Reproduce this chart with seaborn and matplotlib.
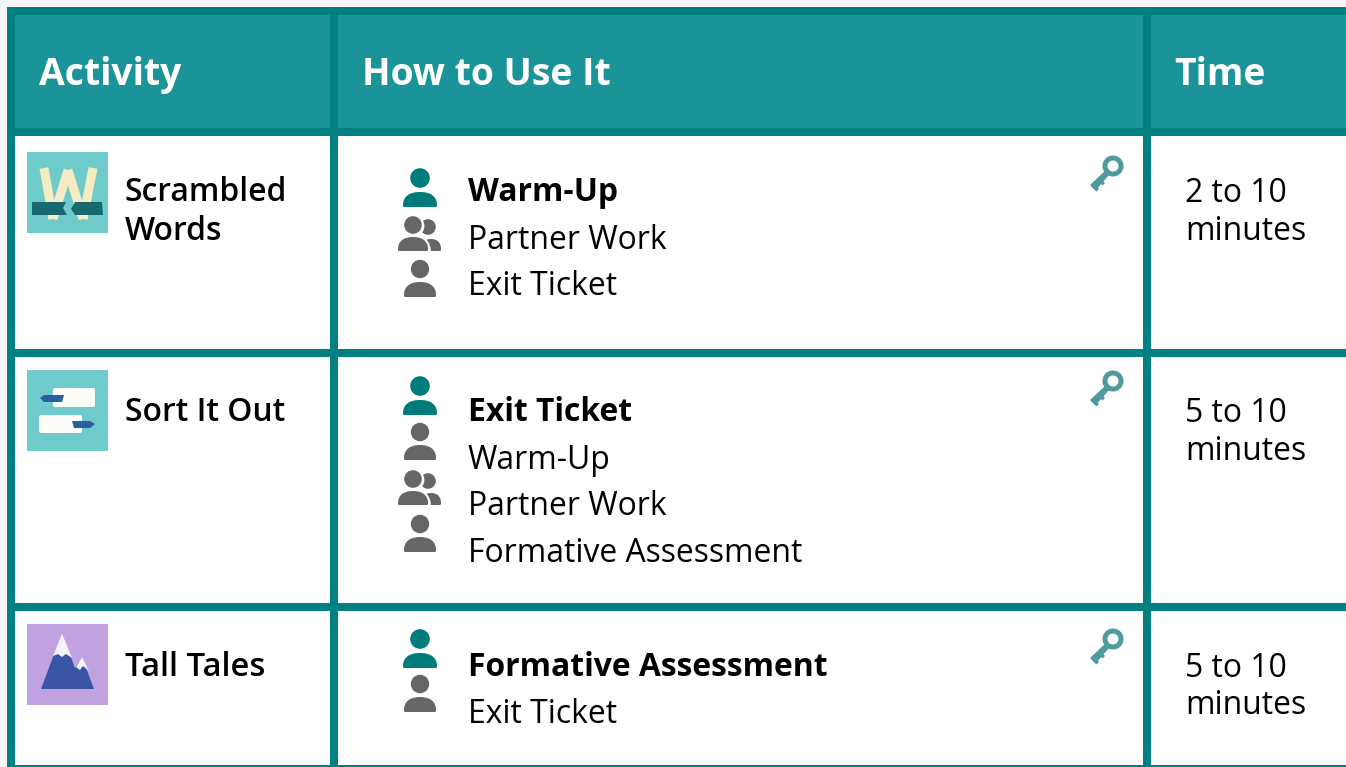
import matplotlib
matplotlib.use("Agg")
import matplotlib.pyplot as plt
from matplotlib.patches import Circle, PathPatch, Polygon, Rectangle, Wedge, FancyBboxPatch
from matplotlib.path import Path
import pandas as pd
import seaborn as sns

# ---- content ----
headers = ["Activity", "How to Use It", "Time"]
activities = [["Scrambled", "Words"], ["Sort It Out"], ["Tall Tales"]]
uses = [
    ["Warm-Up", "Partner Work", "Exit Ticket"],
    ["Exit Ticket", "Warm-Up", "Partner Work", "Formative Assessment"],
    ["Formative Assessment", "Exit Ticket"],
]
use_icons = [
    ["person", "group", "person"],
    ["person", "person", "group", "person"],
    ["person", "person"],
]
times = [["2 to 10", "minutes"], ["5 to 10", "minutes"], ["5 to 10", "minutes"]]

# ---- layout (pixels) ----
W, H = 1346, 767
COL_RULES = [11, 334, 1147]
ROW_RULES = [11, 132, 353, 607]
BOTTOM_RULE_TOP = 765
HEADER_X = [39, 362, 1174.5]
HEADER_BASE = 85
NAME_X, USE_X, TIME_X = 124.7, 468, 1185
NAME_BASE = [[201, 240], [421], [676]]
USE_BASE = [[201, 249, 295], [421, 469, 515, 562], [676, 723]]
TIME_BASE = [[202, 240], [422, 460], [677, 714]]
ICON_HEAD_Y = [[178, 225, 269], [386, 432, 479, 524], [639, 684]]
KEY_Y = [166, 381, 639]
THUMB_Y = [152, 370, 624]

TEAL = "#008080"
PERSON_TEAL = "#007b7b"
HEADER_FILL = "#1a9499"
GREY = "#666666"
KEY = "#4f9a9e"
PAGE = "#f5f5f5"
FS = 22.95
FS_H = 26.9
FS_TALL = 23.6

sns.set_theme(style="white")
plt.rcParams["font.family"] = ["Open Sans", "DejaVu Sans"]

fig = plt.figure(figsize=(W / 100, H / 100), dpi=100, facecolor=PAGE)
ax = fig.add_axes([0, 0, 1, 1])
ax.set_xlim(0, W)
ax.set_ylim(H, 0)
ax.set_axis_off()
sns.despine(ax=ax, left=True, bottom=True)

ax.add_patch(Rectangle((7, 7), W, H, fc="white", ec="none", zorder=0))
ax.add_patch(Rectangle((7, 7), W, ROW_RULES[1] - 7, fc=HEADER_FILL, ec="none", zorder=0))
ax.add_patch(Rectangle((7, BOTTOM_RULE_TOP), W, H, fc=TEAL, ec="none", zorder=2))

# grid rules through seaborn
rules = []
for i, x in enumerate(COL_RULES):
    rules += [(f"c{i}", x, 7), (f"c{i}", x, H)]
for i, y in enumerate(ROW_RULES):
    rules += [(f"r{i}", 7, y), (f"r{i}", W, y)]
rules = pd.DataFrame(rules, columns=["rule", "x", "y"])
sns.lineplot(data=rules, x="x", y="y", units="rule", estimator=None, sort=False,
             color=TEAL, linewidth=8 * 0.72, solid_capstyle="butt", legend=False,
             ax=ax, zorder=2)
ax.set_xlim(0, W)
ax.set_ylim(H, 0)


def dome(x0, x1, y0, y1, color, z=3):
    """Body of a person glyph: flat bottom, rounded top."""
    w, h = x1 - x0, y1 - y0
    verts = [(x0 + 1, y1), (x0, y1), (x0, y1 - 2),
             (x0, y0 + h * 0.28), (x0 + w * 0.2, y0), (x0 + w / 2, y0),
             (x1 - w * 0.2, y0), (x1, y0 + h * 0.28), (x1, y1 - 2),
             (x1, y1), (x1 - 1, y1), (x0 + 1, y1)]
    codes = [Path.MOVETO] + [Path.CURVE3] * 2 + [Path.CURVE4] * 6 + [Path.CURVE3] * 2 + [Path.CLOSEPOLY]
    ax.add_patch(PathPatch(Path(verts, codes), fc=color, ec="none", zorder=z))


def person(cy, color, big=False):
    cx = 420
    if big:
        ax.add_patch(Circle((cx, cy), 9.8, fc=color, ec="none", zorder=3))
        dome(cx - 17, cx + 17, cy + 14, cy + 29, color)
    else:
        ax.add_patch(Circle((cx, cy), 9.2, fc=color, ec="none", zorder=3))
        dome(cx - 16, cx + 16, cy + 13, cy + 28, color)


def group(cy):
    # back figure
    ax.add_patch(Circle((428, cy + 2), 7.8, fc=GREY, ec="none", zorder=3))
    ax.add_patch(Circle((414, cy + 1), 10.4, fc="white", ec="none", zorder=3.1))
    dome(421, 441, cy + 14, cy + 26, GREY, z=3.2)
    dome(395, 431, cy + 10, cy + 30, "white", z=3.3)
    # front figure
    ax.add_patch(Circle((413, cy), 8.8, fc=GREY, ec="none", zorder=3.4))
    dome(398, 428, cy + 12, cy + 26, GREY, z=3.5)


def key(cy):
    cx = 1113
    ax.add_patch(Wedge((cx, cy), 10.5, 0, 360, width=5, fc=KEY, ec="none", zorder=3))
    shaft = [(cx - 7, cy + 4), (cx - 3, cy + 8), (cx - 17.5, cy + 24.5), (cx - 23, cy + 19)]
    ax.add_patch(Polygon(shaft, fc=KEY, ec="none", zorder=3))
    for d in (0, 6):
        t = [(cx - 13 - d, cy + 12 + d), (cx - 8 - d, cy + 17 + d),
             (cx - 10.5 - d, cy + 19.5 + d), (cx - 15.5 - d, cy + 14.5 + d)]
        ax.add_patch(Polygon(t, fc=KEY, ec="none", zorder=3))


def thumb_words(y):
    ax.add_patch(Rectangle((27, y), 81, 81, fc="#6fcaca", ec="none", zorder=3))
    for pts in ([(44, y + 16), (53, y + 67)], [(68, y + 18), (53, y + 67)],
                [(68, y + 18), (83, y + 67)], [(93, y + 16), (83, y + 67)]):
        ax.plot(*zip(*pts), color="#f5ecc4", lw=6.5, solid_capstyle="butt", zorder=3.1)
    ax.add_patch(Polygon([(32, y + 50), (66, y + 50), (63, y + 56), (67, y + 63), (32, y + 63)],
                         fc="#18696f", ec="none", zorder=3.2))
    ax.add_patch(Polygon([(75, y + 50), (102, y + 50), (103, y + 63), (75, y + 63), (71, y + 57)],
                         fc="#18696f", ec="none", zorder=3.2))


def thumb_sort(y):
    ax.add_patch(Rectangle((27, y), 81, 81, fc="#6fcacb", ec="none", zorder=3))
    ax.add_patch(FancyBboxPatch((53, y + 18), 42, 19, boxstyle="round,pad=0,rounding_size=2",
                                fc="#fdfdf8", ec="none", zorder=3.1))
    ax.add_patch(FancyBboxPatch((39, y + 45), 43, 18, boxstyle="round,pad=0,rounding_size=2",
                                fc="#fdfdf8", ec="none", zorder=3.1))
    ax.add_patch(Polygon([(40, y + 28), (44, y + 25), (64, y + 25), (62, y + 32), (44, y + 32)],
                         fc="#27609f", ec="none", zorder=3.2))
    ax.add_patch(Polygon([(72, y + 51), (90, y + 51), (95, y + 54), (90, y + 58), (74, y + 58)],
                         fc="#27609f", ec="none", zorder=3.2))


def thumb_peak(y):
    ax.add_patch(Rectangle((27, y), 81, 81, fc="#c1a2e1", ec="none", zorder=3))
    ax.add_patch(Polygon([(41, y + 65), (62, y + 9), (75, y + 44), (82, y + 33), (94, y + 65)],
                         fc="#3a55a6", ec="none", zorder=3.1))
    ax.add_patch(Polygon([(53, y + 32), (62, y + 9), (72, y + 34), (66, y + 30), (62, y + 33), (58, y + 30)],
                         fc="#f7f2fb", ec="none", zorder=3.2))
    ax.add_patch(Polygon([(76, y + 43), (82, y + 33), (89, y + 47), (83, y + 42), (80, y + 46)],
                         fc="#f7f2fb", ec="none", zorder=3.2))


# header
for label, x in zip(headers, HEADER_X):
    ax.text(x, HEADER_BASE, label, color="white", fontsize=FS_H, fontweight="bold",
            va="baseline", ha="left", zorder=4)

# rows
for thumb, y in zip((thumb_words, thumb_sort, thumb_peak), THUMB_Y):
    thumb(y)
for i in range(3):
    for line, y in zip(activities[i], NAME_BASE[i]):
        size = FS_TALL if line == "Tall Tales" else FS
        ax.text(NAME_X, y, line, color="black", fontsize=size, fontweight="semibold",
                va="baseline", ha="left", zorder=4)
    for j, (line, y) in enumerate(zip(uses[i], USE_BASE[i])):
        ax.text(USE_X, y, line, color="black", fontsize=FS,
                fontweight="bold" if j == 0 else "normal", va="baseline", ha="left", zorder=4)
    for j, (kind, cy) in enumerate(zip(use_icons[i], ICON_HEAD_Y[i])):
        if kind == "group":
            group(cy)
        else:
            person(cy, PERSON_TEAL if j == 0 else GREY, big=j == 0)
    for line, y in zip(times[i], TIME_BASE[i]):
        ax.text(TIME_X, y, line, color="black", fontsize=FS, va="baseline", ha="left", zorder=4)
    key(KEY_Y[i])

fig.savefig("out.png", dpi=100, facecolor=PAGE)
